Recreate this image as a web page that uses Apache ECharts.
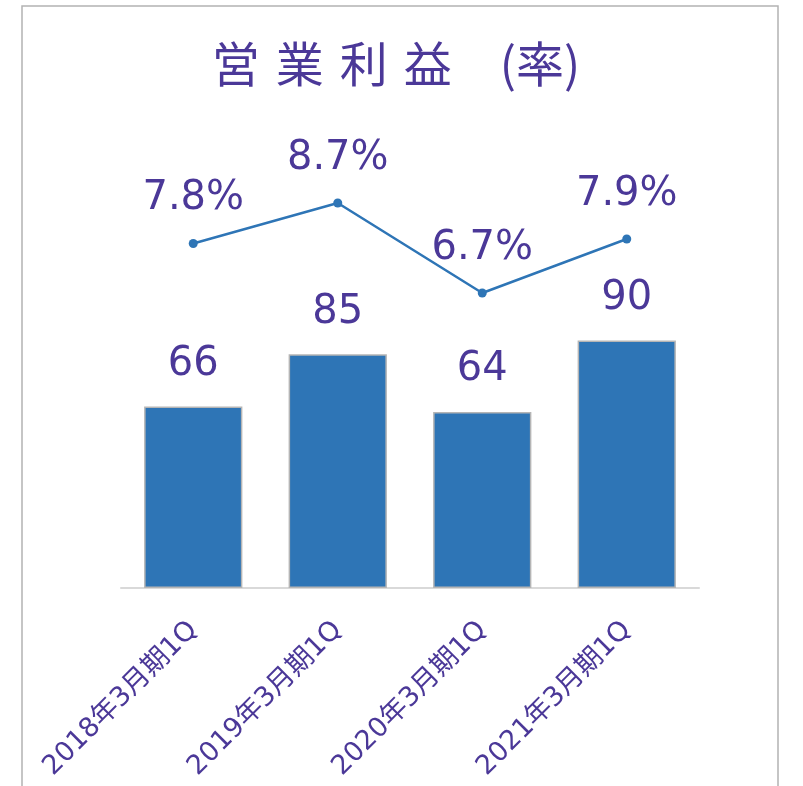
<!DOCTYPE html>
<html><head><meta charset="utf-8">
<script src="https://cdn.jsdelivr.net/npm/echarts@6/dist/echarts.min.js"></script>
<style>html,body{margin:0;padding:0;background:#fff}#c{width:803px;height:786px}</style>
</head><body><div id="c"></div>
<script>
const categories = ['2018年3月期1Q','2019年3月期1Q','2020年3月期1Q','2021年3月期1Q'];
const operatingProfit = [66, 85, 64, 90];
const profitRate = [7.8, 8.7, 6.7, 7.9];
const titleText = '営\u2004業\u2004利\u2004益\u3000(率)';

const purple = '#4B3898';
const blue = '#2E75B6';
const chart = echarts.init(document.getElementById('c'), null, {renderer:'canvas'});
chart.setOption({
  animation:false,
  backgroundColor:'#fff',
  graphic:[{type:'rect', shape:{x:22,y:6,width:756,height:820}, style:{fill:'none', stroke:'#b3b3b3', lineWidth:1.5}, silent:true}],
  title:{text:titleText, left:391, textAlign:'center', top:35,
    textStyle:{fontFamily:'"Noto Sans CJK JP"', fontSize:48, fontWeight:'normal', color:purple}},
  grid:{left:121, right:104, top:148, bottom:198},
  xAxis:{type:'category', data:categories,
    axisLine:{show:true, lineStyle:{color:'#d9d9d9', width:2}},
    axisTick:{show:false},
    axisLabel:{rotate:45, margin:38, interval:0, color:purple, fontSize:27,
      fontFamily:'"DejaVu Sans","Noto Sans CJK JP"'}},
  yAxis:[
    {type:'value', min:0, max:160, show:false, splitLine:{show:false}},
    {type:'value', min:0.144, max:9.922, show:false, splitLine:{show:false}}
  ],
  series:[
    {type:'bar', data:operatingProfit, yAxisIndex:0, barCategoryGap:'32%',
      itemStyle:{color:blue, borderColor:'#b5b5b5', borderWidth:1.5},
      label:{show:true, position:'top', distance:22, color:purple, fontSize:40,
        fontFamily:'"DejaVu Sans"'}},
    {type:'line', data:profitRate, yAxisIndex:1, symbol:'circle', symbolSize:9,
      lineStyle:{color:blue, width:2.5}, itemStyle:{color:blue},
      label:{show:true, position:'top', distance:20, color:purple, fontSize:40,
        fontFamily:'"DejaVu Sans"', formatter:p=>p.value.toFixed(1)+'%'}}
  ]
});
</script></body></html>
